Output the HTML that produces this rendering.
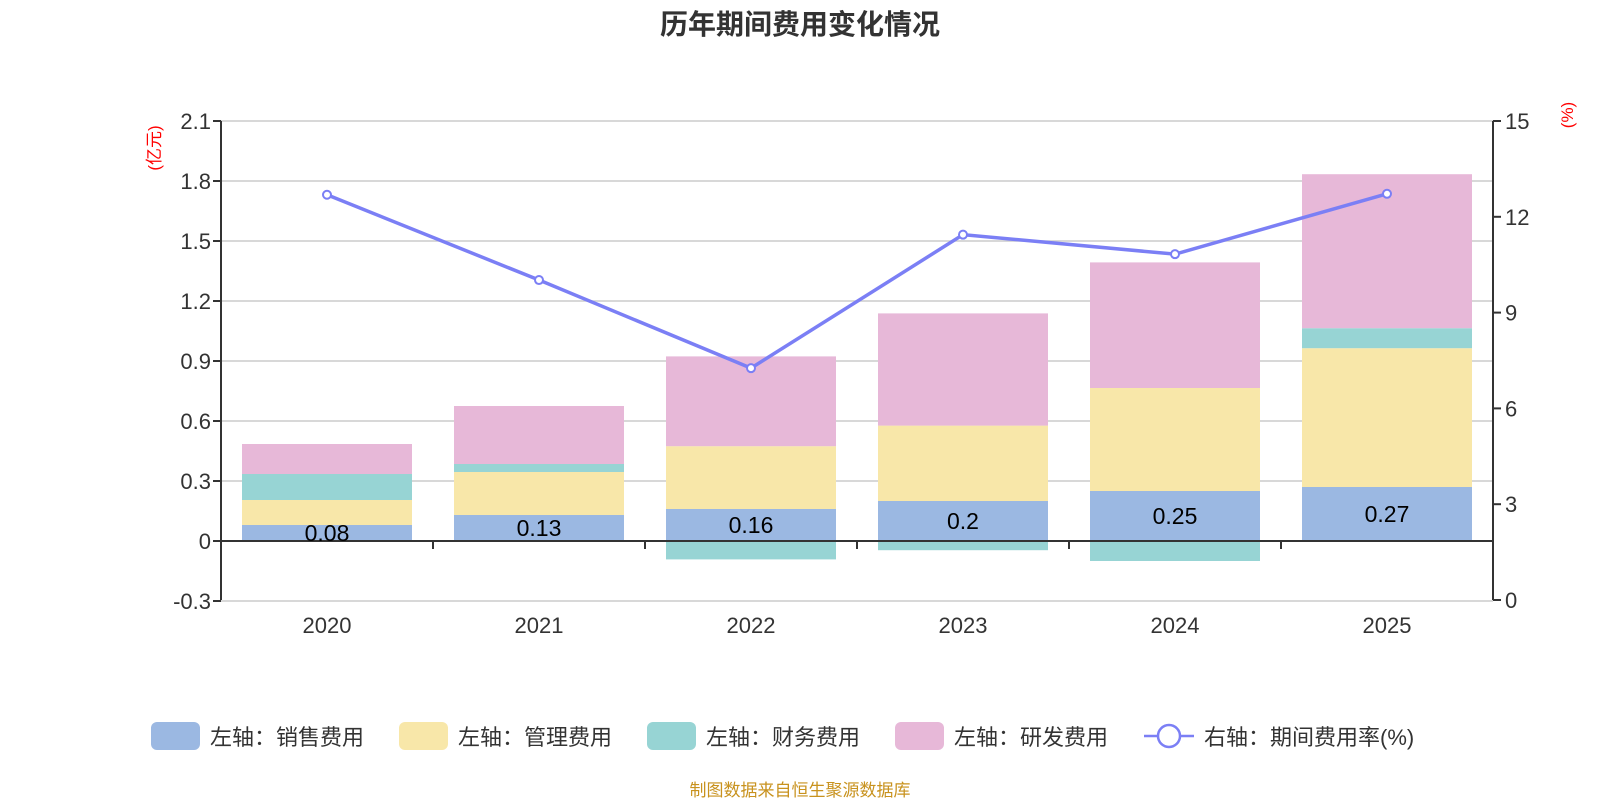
<!DOCTYPE html>
<html><head><meta charset="utf-8">
<style>
html,body{margin:0;padding:0;background:#fff;}
svg{display:block;font-family:"Liberation Sans","Noto Sans CJK SC",sans-serif;}
</style></head>
<body>
<svg id="chart" width="1600" height="800" viewBox="0 0 1600 800">
<text x="800" y="34" text-anchor="middle" font-size="28" font-weight="bold" fill="#333">历年期间费用变化情况</text>
<g id="grid"></g>
<g id="bars"></g>
<g id="axes"></g>
<g id="line"></g>
<g id="labels"></g>
<text transform="translate(160,148) rotate(-90)" text-anchor="middle" font-size="17" fill="#f00">(亿元)</text>
<text transform="translate(1573,115) rotate(-90)" text-anchor="middle" font-size="17" fill="#f00">(%)</text>
<g id="legend"></g>
<text x="800" y="796" text-anchor="middle" font-size="17" fill="#c8921e">制图数据来自恒生聚源数据库</text>
</svg>
<script>
const categories = ["2020","2021","2022","2023","2024","2025"];
const salesExp = [0.08,0.13,0.16,0.20,0.25,0.27];
const mgmtExp = [0.125,0.215,0.314,0.377,0.515,0.694];
const finExp = [0.13,0.04,-0.092,-0.046,-0.10,0.10];
const rdExp = [0.15,0.29,0.449,0.561,0.628,0.77];
const rateValues = [12.69,10.02,7.26,11.44,10.83,12.72];
const leftTicks = [-0.3,0,0.3,0.6,0.9,1.2,1.5,1.8,2.1];
const leftTickLabels = ["-0.3","0","0.3","0.6","0.9","1.2","1.5","1.8","2.1"];
const rightTicks = [0,3,6,9,12,15];
const seriesNames = ["左轴：销售费用","左轴：管理费用","左轴：财务费用","左轴：研发费用"];
const lineName = "右轴：期间费用率(%)";

const NS="http://www.w3.org/2000/svg";
const L=221,R=1493,T=121,B=600;
const yL=v=>541-v*200;
const yR=v=>B-(v/15)*(B-T);
const band=(R-L)/categories.length;
const xC=i=>L+band*(i+0.5);
const bw=170;
function mk(tag,attrs,parent){const e=document.createElementNS(NS,tag);for(const k in attrs)e.setAttribute(k,attrs[k]);document.getElementById(parent).appendChild(e);return e;}

leftTicks.forEach((t,i)=>{
  const g=mk('line',{x1:L,x2:R,y1:yL(t),y2:yL(t),stroke:'#ccc','stroke-width':1.5},'grid');
  
  
  const tk=mk('line',{x1:L-8,x2:L,y1:yL(t),y2:yL(t),stroke:'#333','stroke-width':2},'axes');
  
  
  const tx=mk('text',{x:L-10,y:yL(t)+8,'text-anchor':'end','font-size':22,fill:'#333'},'axes');
  tx.textContent=leftTickLabels[i];
  
  
});
rightTicks.forEach(t=>{
  const tk=mk('line',{x1:R,x2:R+8,y1:yR(t),y2:yR(t),stroke:'#333','stroke-width':2},'axes');
  
  
  const tx=mk('text',{x:R+12,y:yR(t)+8,'font-size':22,fill:'#333'},'axes');
  tx.textContent=String(t);
  
  
});
const colors=['#9bb8e2','#f8e7a9','#97d4d4','#e7b8d8'];
const series=[salesExp,mgmtExp,finExp,rdExp];
categories.forEach((c,i)=>{
  let pos=0,neg=0;
  series.forEach((s,si)=>{
    const v=s[i];let y0,y1;
    if(v>=0){y0=pos;y1=pos+v;pos=y1;}else{y0=neg;y1=neg+v;neg=y1;}
    const r=mk('rect',{x:xC(i)-bw/2,y:Math.min(yL(y0),yL(y1)),width:bw,height:Math.abs(yL(y0)-yL(y1)),fill:colors[si]},'bars');
    
    
  });
  const lb=mk('text',{x:xC(i),y:yL(salesExp[i]/2)+8,'text-anchor':'middle','font-size':23,fill:'#000'},'labels');
  lb.textContent=String(salesExp[i]);
  
  
  const xl=mk('text',{x:xC(i),y:633,'text-anchor':'middle','font-size':22,fill:'#333'},'axes');
  xl.textContent=c;
  
  
  if(i>0){const tk=mk('line',{x1:L+band*i,x2:L+band*i,y1:541,y2:549,stroke:'#333','stroke-width':2},'axes');
  
  }
});
let ax=mk('line',{x1:L,x2:R,y1:541,y2:541,stroke:'#333','stroke-width':2},'axes');


ax=mk('line',{x1:L,x2:L,y1:T,y2:B,stroke:'#333','stroke-width':2},'axes');


ax=mk('line',{x1:R,x2:R,y1:T,y2:B,stroke:'#333','stroke-width':2},'axes');


const pl=mk('polyline',{points:rateValues.map((v,i)=>xC(i)+','+yR(v)).join(' '),fill:'none',stroke:'#7b7ff5','stroke-width':3.5},'line');


rateValues.forEach((v,i)=>{
  const p=mk('circle',{cx:xC(i),cy:yR(v),r:4,fill:'#fff',stroke:'#7b7ff5','stroke-width':2},'line');
  
  
});
const lx=[151,399,647,895];
seriesNames.forEach((n,i)=>{
  const r=mk('rect',{x:lx[i],y:722,width:49,height:28,rx:6,fill:colors[i]},'legend');
  
  
  const t=mk('text',{x:lx[i]+59,y:745,'font-size':22,fill:'#333'},'legend');
  t.textContent=n;
  
  
});
const ll=mk('line',{x1:1144,x2:1194,y1:736,y2:736,stroke:'#7b7ff5','stroke-width':2.5},'legend');


const lc=mk('circle',{cx:1169,cy:736,r:11,fill:'#fff',stroke:'#7b7ff5','stroke-width':2.5},'legend');


const lt=mk('text',{x:1204,y:745,'font-size':22,fill:'#333'},'legend');
lt.textContent=lineName;


</script>
</body></html>
